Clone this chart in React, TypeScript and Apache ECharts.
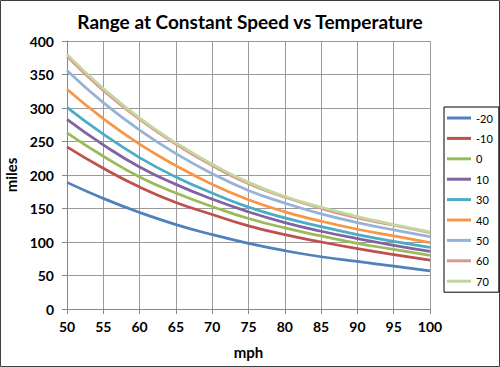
import React, { useEffect, useRef } from "react";
import * as echarts from "echarts";

const speeds = [50, 55, 60, 65, 70, 75, 80, 85, 90, 95, 100];
const tempMinus20 = [189, 165, 144, 126, 111, 98, 87, 78, 71, 64, 57];
const tempMinus10 = [242, 210, 182, 159, 141, 124, 111, 100, 90, 81, 73];
const temp0 = [263, 228, 197, 173, 153, 135, 121, 109, 98, 89, 80];
const temp10 = [283, 245, 212, 186, 164, 145, 129, 116, 105, 95, 86];
const temp30 = [301, 261, 226, 197, 173, 152, 136, 123, 111, 101, 92];
const temp40 = [328, 284, 246, 214, 186, 163, 145, 131, 119, 109, 99];
const temp50 = [356, 308, 267, 232, 202, 177, 158, 142, 129, 118, 108];
const temp60 = [377, 326, 283, 246, 214, 187, 167, 150, 136, 125, 114];
const temp70 = [380, 329, 285, 248, 216, 189, 168, 152, 138, 126, 115];

const seriesNames = ["-20", "-10", "0", "10", "30", "40", "50", "60", "70"];
const seriesValues = [tempMinus20, tempMinus10, temp0, temp10, temp30, temp40, temp50, temp60, temp70];
const seriesColors = ["#4F81BD", "#C0504D", "#9BBB59", "#8064A2", "#4BACC6", "#F79646", "#95B3D7", "#D99694", "#C3D69B"];

const titleText = "Range at Constant Speed vs Temperature";
const xName = "mph";
const yName = "miles";

export default function App() {
  const ref = useRef<HTMLDivElement>(null);
  useEffect(() => {
    document.body.style.margin = "0";
    if (!ref.current) return;
    const chart = echarts.init(ref.current, undefined, { renderer: "svg" });
    const font = "Lato, 'Noto Sans', sans-serif";
    chart.setOption({
      animation: false,
      backgroundColor: "#ffffff",
      title: {
        text: titleText,
        left: "center",
        top: 12,
        padding: 0,
        textStyle: { fontFamily: font, fontWeight: "bold", fontSize: 19, color: "#000" },
      },
      grid: { left: 67, right: 70, top: 41, bottom: 58, outerBoundsMode: "none", containLabel: false },
      legend: {
        orient: "vertical",
        left: 444,
        top: 107,
        padding: [4, 6, 4, 3],
        borderColor: "#000",
        borderWidth: 1,
        icon: "rect",
        itemWidth: 24,
        itemHeight: 3,
        itemGap: 6.4,
        data: seriesNames,
        textStyle: { fontFamily: font, fontSize: 11, color: "#000", lineHeight: 14 },
      },
      xAxis: {
        type: "value",
        min: 50,
        max: 100,
        interval: 5,
        name: xName,
        nameLocation: "middle",
        nameGap: 35,
        nameTextStyle: { fontFamily: font, fontWeight: "bold", fontSize: 15, color: "#000" },
        axisLine: { lineStyle: { color: "#868686" } },
        axisTick: { show: true, length: 5, lineStyle: { color: "#868686" } },
        axisLabel: { fontFamily: font, fontWeight: "bold", fontSize: 14, color: "#000", margin: 10 },
        splitLine: { show: true, lineStyle: { color: "#9a9a9a", width: 1 } },
      },
      yAxis: {
        type: "value",
        min: 0,
        max: 400,
        interval: 50,
        name: yName,
        nameLocation: "middle",
        nameGap: 42,
        nameRotate: 90,
        nameTextStyle: { fontFamily: font, fontWeight: "bold", fontSize: 15, color: "#000" },
        axisLine: { show: true, lineStyle: { color: "#868686" } },
        axisTick: { show: true, length: 5, lineStyle: { color: "#868686" } },
        axisLabel: { fontFamily: font, fontWeight: "bold", fontSize: 14, color: "#000", margin: 13 },
        splitLine: { show: true, lineStyle: { color: "#9a9a9a", width: 1 } },
      },
      series: seriesNames.map((name, i) => ({
        name,
        type: "line",
        smooth: true,
        symbol: "none",
        data: speeds.map((s, j) => [s, seriesValues[i][j]]),
        lineStyle: { color: seriesColors[i], width: 2.75 },
        itemStyle: { color: seriesColors[i] },
      })),
      graphic: [
        {
          type: "rect",
          shape: { x: 0.5, y: 0.5, width: 499, height: 366 },
          style: { fill: "none", stroke: "#404040", lineWidth: 1 },
          silent: true,
        },
      ],
    });
    return () => chart.dispose();
  }, []);
  return <div ref={ref} style={{ width: 500, height: 367, position: "absolute", left: 0, top: 0 }} />;
}
